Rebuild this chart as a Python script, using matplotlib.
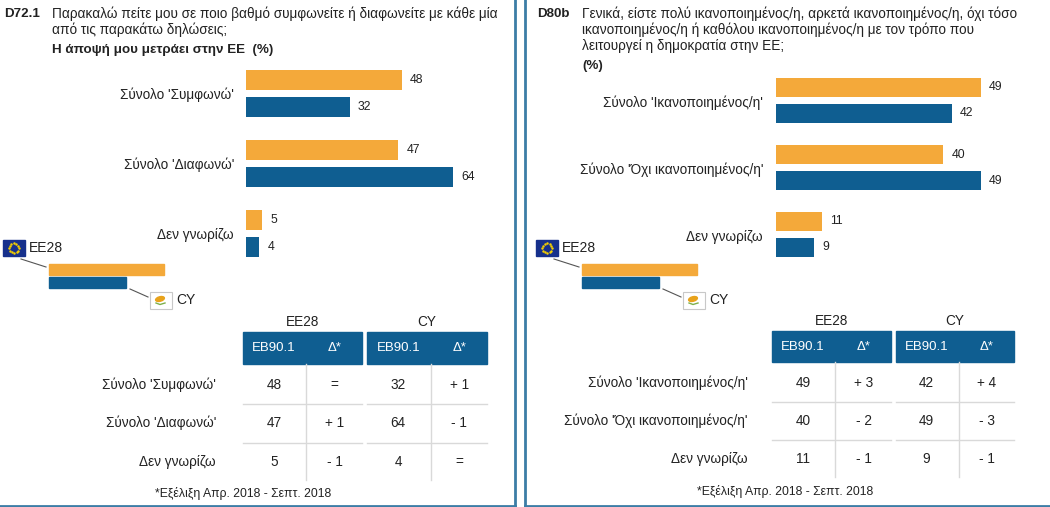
import numpy as np
import matplotlib.pyplot as plt
from matplotlib.patches import Rectangle, Ellipse

plt.rcParams['font.family'] = ['Liberation Sans', 'DejaVu Sans']

ORANGE = '#F4A93A'
BLUE = '#0F5E91'
BORDER = '#3C7DA6'
GRID = '#D9D9D9'
TXT = '#222222'
FS = 9.8

# ---- data: left panel (D72.1)
left_cats = ["Σύνολο 'Συμφωνώ'", "Σύνολο 'Διαφωνώ'", "Δεν γνωρίζω"]
left_eu = [48, 47, 5]
left_cy = [32, 64, 4]
left_eu_delta = ["=", "+ 1", "- 1"]
left_cy_delta = ["+ 1", "- 1", "="]

# ---- data: right panel (D80b)
right_cats = ["Σύνολο 'Ικανοποιημένος/η'", "Σύνολο 'Όχι ικανοποιημένος/η'", "Δεν γνωρίζω"]
right_eu = [49, 40, 11]
right_cy = [42, 49, 9]
right_eu_delta = ["+ 3", "- 2", "- 1"]
right_cy_delta = ["+ 4", "- 3", "- 1"]

W, H = 1050, 507
fig = plt.figure(figsize=(W / 100, H / 100), dpi=100)
ov = fig.add_axes([0, 0, 1, 1])
ov.set_xlim(0, W)
ov.set_ylim(H, 0)
ov.axis('off')


def px_axes(x0, y0, x1, y1):
    # axes placed by pixel box (top-left origin)
    return fig.add_axes([x0 / W, 1 - y1 / H, (x1 - x0) / W, (y1 - y0) / H])


def bar_panel(x0, scale, xmax, yc_first, pitch, bar_h, off, cats, eu, cy, label_x):
    ax = px_axes(x0, yc_first - pitch / 2, x0 + scale * xmax, yc_first + pitch * 2.5)
    ax.set_xlim(0, xmax)
    ax.set_ylim(2.5, -0.5)
    ax.axis('off')
    pos = np.arange(len(cats))
    h = bar_h / pitch
    d = off / pitch
    b1 = ax.barh(pos - d, eu, height=h, color=ORANGE)
    b2 = ax.barh(pos + d, cy, height=h, color=BLUE)
    for bars, vals in ((b1, eu), (b2, cy)):
        for b, v in zip(bars, vals):
            ax.annotate(str(v), (v, b.get_y() + b.get_height() / 2), xytext=(6, 0),
                        textcoords='offset points', va='center', ha='left',
                        fontsize=8.8, color=TXT)
    for i, c in enumerate(cats):
        ov.text(label_x, yc_first + i * pitch + 2, c, ha='right', va='center',
                fontsize=FS, color=TXT)
    return ax


def eu_flag(x, y):
    ov.add_patch(Rectangle((x, y), 22, 16, color='#16308C', zorder=3))
    t = np.linspace(0, 2 * np.pi, 12, endpoint=False)
    ov.scatter(x + 11 + 5 * np.cos(t), y + 8 + 5 * np.sin(t), s=0.6, color='#F5D000', zorder=4)


def cy_flag(x, y):
    ov.add_patch(Rectangle((x, y), 22, 17, facecolor='white', edgecolor='#C8C8C8', lw=0.8, zorder=3))
    ov.add_patch(Ellipse((x + 10, y + 7), 9, 4.5, angle=-15, color='#E8A21A', zorder=4))
    ov.plot([x + 6, x + 10, x + 15], [y + 11, y + 12.5, y + 11], color='#7DB04A', lw=1, zorder=4)


def legend(x0):
    eu_flag(x0 + 3, 240)
    ov.text(x0 + 29, 248.5, 'ΕΕ28', va='center', ha='left', fontsize=10, color=TXT)
    ov.plot([x0 + 21, x0 + 46], [259, 267], color='#555555', lw=0.8)
    ov.add_patch(Rectangle((x0 + 49, 264), 115, 11, color=ORANGE))
    ov.add_patch(Rectangle((x0 + 49, 277), 77, 11, color=BLUE))
    ov.plot([x0 + 130, x0 + 148], [289, 297], color='#555555', lw=0.8)
    cy_flag(x0 + 150, 292)
    ov.text(x0 + 176, 300, 'CY', va='center', ha='left', fontsize=10, color=TXT)


def table(box1, box2, top, bot, rows_y, label_x, cats, eu, eu_d, cy, cy_d, foot_x, foot_y):
    for (a, b), name, vals, deltas in ((box1, 'ΕΕ28', eu, eu_d), (box2, 'CY', cy, cy_d)):
        ov.add_patch(Rectangle((a, top), b - a, bot - top, color=BLUE))
        mid = (a + b) / 2
        c1, c2 = a + (b - a) * 0.26, a + (b - a) * 0.77
        ov.text(mid, top - 10, name, ha='center', va='center', fontsize=FS, color=TXT)
        ov.text(c1, (top + bot) / 2, 'EB90.1', ha='center', va='center', fontsize=9.5, color='white')
        ov.text(c2, (top + bot) / 2, 'Δ*', ha='center', va='center', fontsize=9.5, color='white')
        sep = mid + (b - a) * 0.03
        ov.plot([sep, sep], [bot, rows_y[-1] + 18], color=GRID, lw=1)
        for yy in ((rows_y[0] + rows_y[1]) / 2, (rows_y[1] + rows_y[2]) / 2):
            ov.plot([a, b], [yy, yy], color=GRID, lw=1)
        for yy, v, dl in zip(rows_y, vals, deltas):
            ov.text(c1, yy, str(v), ha='center', va='center', fontsize=FS, color=TXT)
            ov.text(c2, yy, dl, ha='center', va='center', fontsize=FS, color=TXT)
    for yy, c in zip(rows_y, cats):
        ov.text(label_x, yy, c, ha='right', va='center', fontsize=FS, color=TXT)
    ov.text(foot_x, foot_y, '*Εξέλιξη Απρ. 2018 - Σεπτ. 2018', ha='center', va='center',
            fontsize=8.8, color=TXT)


# ---- left panel
ov.text(4, 14, 'D72.1', fontweight='bold', fontsize=9.6, va='center', color=TXT)
ov.text(52, 14, 'Παρακαλώ πείτε μου σε ποιο βαθμό συμφωνείτε ή διαφωνείτε με κάθε μία',
        fontsize=FS, va='center', color=TXT)
ov.text(52, 30, 'από τις παρακάτω δηλώσεις;', fontsize=FS, va='center', color=TXT)
ov.text(52, 50, 'Η άποψή μου μετράει στην ΕΕ  (%)', fontweight='bold', fontsize=9.6,
        va='center', color=TXT)
bar_panel(246, 3.24, 80, 93.25, 70, 20, 13.25, left_cats, left_eu, left_cy, 234)
legend(0)
table((243, 362), (367, 487), 332, 364, [385, 423, 462], 216,
      left_cats, left_eu, left_eu_delta, left_cy, left_cy_delta, 243, 493)

# ---- right panel
ov.text(537, 14, 'D80b', fontweight='bold', fontsize=9.6, va='center', color=TXT)
ov.text(582, 14, 'Γενικά, είστε πολύ ικανοποιημένος/η, αρκετά ικανοποιημένος/η, όχι τόσο',
        fontsize=FS, va='center', color=TXT)
ov.text(582, 30, 'ικανοποιημένος/η ή καθόλου ικανοποιημένος/η με τον τρόπο που',
        fontsize=FS, va='center', color=TXT)
ov.text(582, 46, 'λειτουργεί η δημοκρατία στην ΕΕ;', fontsize=FS, va='center', color=TXT)
ov.text(582, 66, '(%)', fontweight='bold', fontsize=9.6, va='center', color=TXT)
bar_panel(776, 4.18, 60, 100.5, 67, 19, 13, right_cats, right_eu, right_cy, 763)
legend(533)
table((772, 891), (896, 1014), 331, 362, [383, 421, 459], 748,
      right_cats, right_eu, right_eu_delta, right_cy, right_cy_delta, 785, 492)

# ---- panel borders
ov.plot([515, 515], [0, 506], color=BORDER, lw=2)
ov.plot([0, 515], [505.5, 505.5], color=BORDER, lw=2)
ov.plot([524.5, 524.5], [0, 506], color=BORDER, lw=2)
ov.plot([524.5, 1050], [505.5, 505.5], color=BORDER, lw=2)

fig.savefig('out.png', dpi=100)
